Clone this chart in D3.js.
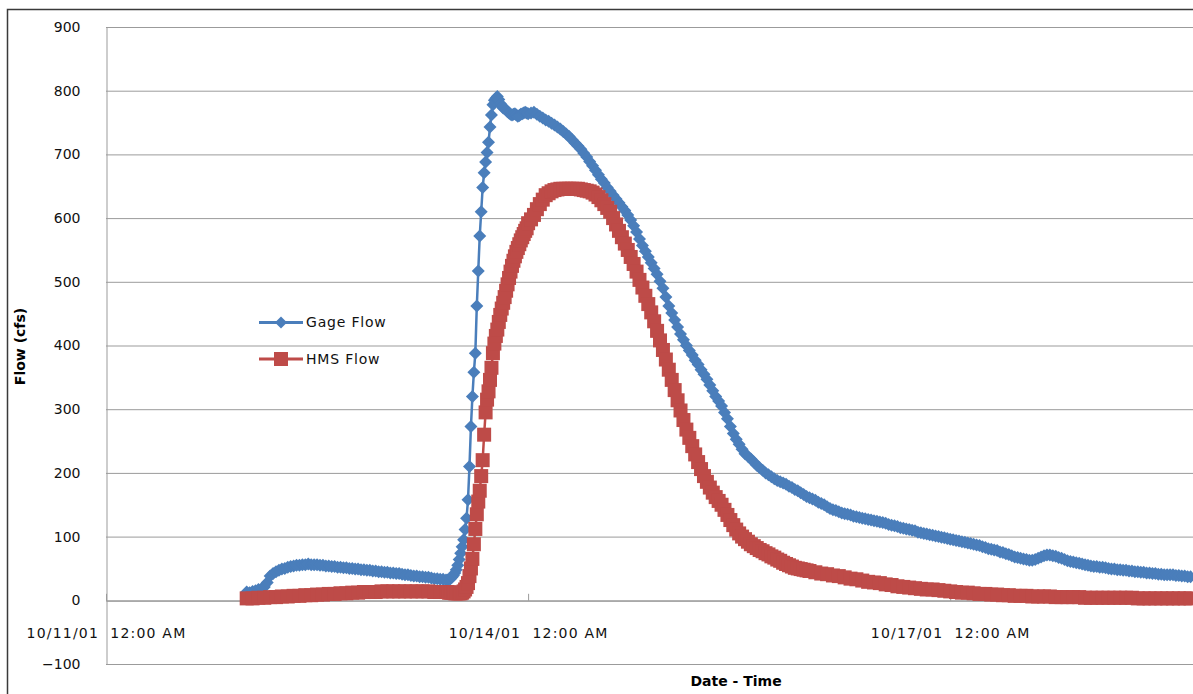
<!DOCTYPE html>
<html><head><meta charset="utf-8">
<script src="https://cdn.jsdelivr.net/npm/d3@7"></script>
<style>
body{margin:0;background:#fff;}
svg{display:block;font-family:"DejaVu Sans",sans-serif;}
</style></head><body>
<svg id="chart" width="1193" height="694"></svg>
<script>
// ---- data ----
const startDate = "2001-10-11T00:00:00Z";       // hours below are counted from this instant

// Gage Flow: segments (start hour, step in hours) and values
const gageSegStart = [24, 58, 72];
const gageSegStep  = [0.5, 0.25, 0.5];
const gageFlowA = [13,12,14,15,17,18,21,28,38,42,
 45,47,49,50,52,53,54,55,55,56,
 56,57,56,56,56,55,55,54,54,53,
 53,52,52,51,51,50,50,49,49,48,
 48,47,47,46,46,45,45,44,44,43,
 43,42,42,41,40,40,39,38,38,37,
 37,36,36,35,34,34,33,33];
const gageFlowB = [32,32,33,34,36,39,43,48,55,64,74,84,95,111,129,158,210,273,320,358,388,462,517,572,610,648,671,688,703,719,743,762,778,785,788,791,786,780,776,773,772,770,767,765,763,762,763,764,762,760,761,763,764,765,766,765];
const gageFlowC = [764,765,766,763,760,757,754,752,749,746,
 743,740,736,732,728,723,718,713,708,702,
 696,689,682,675,668,661,655,648,642,636,
 630,624,618,612,605,597,588,578,567,557,
 548,539,530,521,512,501,490,476,462,451,
 440,429,418,409,400,392,385,377,370,362,
 355,347,338,329,320,313,305,295,285,273,
 262,253,245,237,230,226,222,217,212,208,
 204,200,197,194,191,188,186,184,182,179,
 177,174,172,169,166,163,161,159,157,154,
 152,150,147,144,142,141,139,137,136,135,
 134,132,131,130,129,128,127,126,125,124,
 123,122,121,119,118,117,116,114,113,112,
 111,110,109,107,106,105,104,103,102,101,
 100,99,98,97,96,95,94,93,92,91,
 90,89,88,87,86,84,83,81,80,79,
 78,76,75,73,72,70,68,67,66,65,
 64,63,63,64,66,68,70,71,71,70,
 69,67,66,64,62,61,60,59,58,57,
 56,55,54,53,53,52,52,51,50,49,
 49,48,48,47,47,46,46,45,45,44,
 44,43,43,42,42,41,41,40,40,40,
 40,39,39,38,38,37,37];

// HMS Flow: segments (start hour, step in hours) and values
const hmsSegStart = [24, 58, 72, 121];
const hmsSegStep  = [1, 0.25, 0.5, 1];
const hmsFlowA = [3,3,4,4,5,5,6,6,7,7,8,8,9,9,10,10,11,11,12,12,13,13,13,14,14,14,14,14,14,14,14,14,13,13];
const hmsFlowB = [13,13,12,12,12,12,11,11,11,11,11,12,14,17,21,27,38,50,65,88,112,135,155,172,195,220,260,295,315,328,346,365,388,403,415,425,437,448,458,467,476,486,496,506,516,525,533,540,547,553,559,565,570,575,580,584];
const hmsFlowC = [592,598,605,614,622,629,636,639,642,644,
 645,646,646,646,646,646,646,646,645,644,
 643,642,640,637,633,628,622,616,610,600,
 590,580,570,560,550,539,528,516,503,491,
 478,465,452,438,423,408,393,378,362,346,
 330,314,298,283,268,255,242,229,217,206,
 195,186,177,169,162,156,150,142,134,126,
 118,111,105,100,96,92,88,85,82,79,
 77,74,72,69,67,64,62,59,57,55,
 53,51,50,49,48,47,46];
const hmsFlowD = [44,42,41,39,38,36,34,33,31,29,28,27,25,24,22,21,20,19,18,17,17,16,15,14,13,12,12,11,10,10,9,9,8,8,7,7,7,6,6,6,6,5,5,5,5,5,4,4,4,4,4,4,4,4,4,3,3,3,3,3,3,3,3,3,3];

const seriesNames = ["Gage Flow", "HMS Flow"];
const yTickValues = [-100,0,100,200,300,400,500,600,700,800,900];
const xTickDates = ["2001-10-11T00:00:00Z","2001-10-14T00:00:00Z","2001-10-17T00:00:00Z"];
const xDomainEnd = "2001-10-18T18:00:00Z";
const xTitle = "Date - Time";
const yTitle = "Flow (cfs)";

// ---- build ----
const t0 = new Date(startDate).getTime();
function buildSeries(segs, starts, steps){
  const out = [];
  segs.forEach((vals, s) => {
    vals.forEach((v, i) => {
      const h = starts[s] + i*steps[s];
      out.push({t: new Date(t0 + h*3600e3), v: v});
    });
  });
  return out;
}
const gage = buildSeries([gageFlowA, gageFlowB, gageFlowC], gageSegStart, gageSegStep);
const hms  = buildSeries([hmsFlowA, hmsFlowB, hmsFlowC, hmsFlowD], hmsSegStart, hmsSegStep);

const svg = d3.select("#chart");
const L = 106, T = 27, B = 664;
const pxPerDay = 140.7;
const dEnd = new Date(xDomainEnd), dStart = new Date(startDate);
const x = d3.scaleUtc().domain([dStart, dEnd])
  .range([L, L + (dEnd - dStart)/864e5*pxPerDay]);
const y = d3.scaleLinear().domain([-100, 900]).range([B, T]);
const R = x.range()[1];

const blue = "#4A7EBB", red = "#BE4B48", grid = "#9b9b9b";

// outer border
svg.append("rect").attr("x",7.5).attr("y",9.5).attr("width",1200).attr("height",700)
  .attr("fill","none").attr("stroke","#3a3a3a").attr("stroke-width",1.5);

// gridlines
svg.append("g").selectAll("line").data(yTickValues).join("line")
  .attr("x1",L).attr("x2",R).attr("y1",d=>y(d)+0.5).attr("y2",d=>y(d)+0.5)
  .attr("stroke",grid).attr("stroke-width",1);

// y axis
const gy = svg.append("g").attr("transform",`translate(${L+0.5},0)`)
  .call(d3.axisLeft(y).tickValues(yTickValues).tickSize(0).tickSizeOuter(0).tickPadding(26).tickFormat(d3.format("d")));
gy.select(".domain").attr("stroke",grid);
gy.selectAll("text").attr("font-size",14).attr("fill","#111").attr("font-family","DejaVu Sans");

// x axis line with inside ticks
const xDates = xTickDates.map(d=>new Date(d));
const gx = svg.append("g").attr("transform",`translate(0,${y(0)+0.5})`)
  .call(d3.axisTop(x).tickValues(xDates).tickSize(7).tickSizeOuter(0).tickFormat(""));
gx.select(".domain").attr("stroke",grid);
gx.selectAll(".tick line").attr("stroke",grid);

// x labels
const fmt = d3.utcFormat("%m/%d/%y  %I:%M %p");
const gxl = svg.append("g").attr("transform",`translate(0,${y(0)})`)
  .call(d3.axisBottom(x).tickValues(xDates).tickSize(0).tickFormat(fmt));
gxl.select(".domain").remove();
gxl.selectAll("text").attr("y",33).attr("dy","0.35em").attr("font-size",14)
  .attr("fill","#111").attr("font-family","DejaVu Sans")
  .style("white-space","pre").style("letter-spacing","1.2px");

// series
const line = d3.line().x(d=>x(d.t)).y(d=>y(d.v));
const diamond = "M0,-6.5L6.5,0L0,6.5L-6.5,0Z";
const legendDiamond = "M0,-6L6,0L0,6L-6,0Z";
const sq = 14;

svg.append("path").datum(gage).attr("d",line).attr("fill","none")
  .attr("stroke",blue).attr("stroke-width",2.5);
svg.append("g").selectAll("path").data(gage).join("path")
  .attr("d",diamond).attr("transform",d=>`translate(${x(d.t)},${y(d.v)})`).attr("fill",blue);

svg.append("path").datum(hms).attr("d",line).attr("fill","none")
  .attr("stroke",red).attr("stroke-width",2.5);
svg.append("g").selectAll("rect").data(hms).join("rect")
  .attr("x",d=>x(d.t)-sq/2).attr("y",d=>y(d.v)-sq/2).attr("width",sq).attr("height",sq)
  .attr("fill",red);

// legend
const lg = svg.append("g");
const legendRows = [{name:seriesNames[0], c:blue, m:"d", yy:322.5},{name:seriesNames[1], c:red, m:"s", yy:359}];
legendRows.forEach(r=>{
  lg.append("line").attr("x1",259).attr("x2",303).attr("y1",r.yy).attr("y2",r.yy)
    .attr("stroke",r.c).attr("stroke-width",3);
  if(r.m==="d") lg.append("path").attr("d",legendDiamond).attr("transform",`translate(281,${r.yy})`).attr("fill",r.c);
  else lg.append("rect").attr("x",281-7).attr("y",r.yy-7).attr("width",14).attr("height",14).attr("fill",r.c);
  lg.append("text").attr("x",306).attr("y",r.yy).attr("dy","0.35em").attr("font-size",14)
    .style("letter-spacing","0.8px").attr("fill","#111").text(r.name);
});

// axis titles
svg.append("text").attr("transform","translate(20,346.5) rotate(-90)").attr("text-anchor","middle")
  .attr("dy","0.35em").attr("font-size",14).attr("font-weight","bold").attr("fill","#000").text(yTitle);
svg.append("text").attr("x",736).attr("y",681).attr("text-anchor","middle")
  .attr("dy","0.35em").attr("font-size",14).attr("font-weight","bold").attr("fill","#000").text(xTitle);
</script>
</body></html>
